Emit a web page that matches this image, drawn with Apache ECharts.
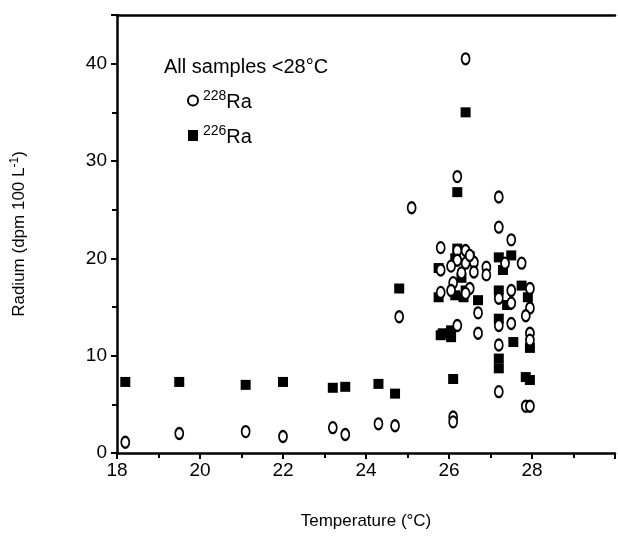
<!DOCTYPE html>
<html>
<head>
<meta charset="utf-8">
<script src="https://cdn.jsdelivr.net/npm/echarts@6/dist/echarts.min.js"></script>
<style>html,body{margin:0;padding:0;background:#fff}#c{width:618px;height:538px}</style>
</head>
<body>
<div id="c"></div>
<script>
// 228Ra (open circles): temperature (°C) and activity (dpm 100 L-1)
var ra228Temp = [18.2,19.5,21.1,22.0,23.2,23.5,24.3,24.7,24.8,25.1,
  26.4,26.2,27.2,27.2,27.5,25.8,
  26.2,26.4,26.2,26.4,26.6,26.6,25.8,26.05,26.3,26.5,26.1,25.8,26.05,26.5,26.4,26.7,26.2,26.7,26.1,26.1,
  26.9,26.9,27.35,27.75,27.2,27.5,27.5,27.95,27.95,27.85,27.2,27.5,27.95,27.2,27.95,27.2,27.85,27.95];
var ra228Val = [1.1,2.0,2.2,1.7,2.6,1.9,3.0,2.8,14.0,25.2,
  40.5,28.4,26.3,23.2,21.9,21.1,
  20.8,20.8,19.8,19.5,19.6,18.6,18.8,19.2,18.5,20.3,17.5,16.5,16.7,16.9,16.4,14.4,13.1,12.3,3.7,3.2,
  19.1,18.3,19.5,19.5,15.9,16.7,15.4,16.9,14.9,14.1,13.1,13.3,12.3,11.1,11.6,6.3,4.8,4.8];
// 226Ra (filled squares)
var ra226Temp = [18.2,19.5,21.1,22.0,23.2,23.5,24.3,24.7,24.8,26.4,26.2,
  27.2,27.5,27.3,25.75,26.15,26.3,25.75,26.15,26.4,26.7,27.2,27.75,27.9,27.4,27.2,
  25.85,26.05,25.8,26.05,27.55,27.95,27.2,27.2,26.1,27.85,27.95,
  26.2,26.5,26.35];
var ra226Val = [7.3,7.3,7.0,7.3,6.7,6.8,7.1,6.1,16.9,35.0,26.8,
  20.1,20.3,18.8,19.0,20.0,18.0,16.0,16.2,16.7,15.7,16.7,17.2,16.0,15.2,13.8,
  12.3,12.6,12.1,11.9,11.4,10.8,9.7,8.7,7.6,7.8,7.5,
  21.0,20.2,16.0];

var xTicks = [18,20,22,24,26,28];
var yTicks = [0,10,20,30,40];

function zip(a,b){ return a.map(function(v,i){ return [v,b[i]]; }); }

var FONT = '"Liberation Sans", Arial, Helvetica, sans-serif';
var chart = echarts.init(document.getElementById('c'));
chart.setOption({
  animation:false,
  backgroundColor:'#fff',
  textStyle:{fontFamily:FONT,color:'#000'},
  title:{text:'All samples <28°C',left:159,top:52,textStyle:{fontFamily:FONT,fontSize:20,fontWeight:'normal',color:'#000'}},
  legend:{
    orient:'vertical',left:182,top:84,itemGap:12,itemWidth:10,itemHeight:11,
    data:[
      {name:'228Ra',icon:'emptyCircle',itemStyle:{color:'#000',borderColor:'#000',borderWidth:2.5}},
      {name:'226Ra',icon:'rect',itemStyle:{color:'#000'}}
    ],
    formatter:function(n){ return '{s|'+n.slice(0,3)+'}{n|'+n.slice(3)+'}'; },
    textStyle:{fontFamily:FONT,color:'#000',rich:{
      s:{fontSize:14,fontFamily:FONT,color:'#000',verticalAlign:'top',padding:[0,0,9,0]},
      n:{fontSize:20,fontFamily:FONT,color:'#000',verticalAlign:'bottom'}
    }}
  },
  grid:{left:117,right:-2,top:15,bottom:85},
  xAxis:[{
    type:'value',min:18,max:30,interval:2,
    name:'Temperature (°C)',nameLocation:'middle',nameGap:60,
    nameTextStyle:{fontFamily:FONT,fontSize:17,color:'#000'},
    axisLine:{show:true,lineStyle:{color:'#000',width:2.5}},
    axisTick:{show:true,length:6,lineStyle:{color:'#000',width:2}},
    minorTick:{show:true,splitNumber:2,length:5,lineStyle:{color:'#000',width:2}},
    splitLine:{show:false},
    axisLabel:{fontFamily:FONT,fontSize:19,color:'#000',margin:8,
      formatter:function(v){ return xTicks.indexOf(v)>=0 ? String(v) : ''; }}
  },{
    type:'value',position:'top',min:18,max:30,
    axisLine:{show:true,lineStyle:{color:'#000',width:2.5}},
    axisTick:{show:false},axisLabel:{show:false},splitLine:{show:false}
  }],
  yAxis:{
    type:'value',min:0,max:45,interval:10,
    name:'{a|Radium (dpm 100 L}{b|-1}{a|)}',nameLocation:'middle',nameGap:88,nameRotate:90,
    nameTextStyle:{rich:{a:{fontFamily:FONT,fontSize:17,color:'#000'},b:{fontFamily:FONT,fontSize:12,color:'#000',verticalAlign:'top',padding:[0,0,8,0]}}},
    axisLine:{show:true,lineStyle:{color:'#000',width:2.5}},
    axisTick:{show:true,length:6,lineStyle:{color:'#000',width:2}},
    minorTick:{show:true,splitNumber:2,length:5,lineStyle:{color:'#000',width:2}},
    splitLine:{show:false},
    axisLabel:{fontFamily:FONT,fontSize:19,color:'#000',margin:10,
      formatter:function(v){ return yTicks.indexOf(v)>=0 ? String(v) : ''; }}
  },
  series:[
    {name:'228Ra',type:'scatter',data:zip(ra228Temp,ra228Val),symbol:'emptyCircle',symbolSize:[8,11],
      itemStyle:{color:'#000',borderColor:'#000',borderWidth:2.5,opacity:1},z:3},
    {name:'226Ra',type:'scatter',data:zip(ra226Temp,ra226Val),symbol:'rect',symbolSize:10,
      itemStyle:{color:'#000',opacity:1},z:2}
  ]
});
</script>
</body>
</html>
